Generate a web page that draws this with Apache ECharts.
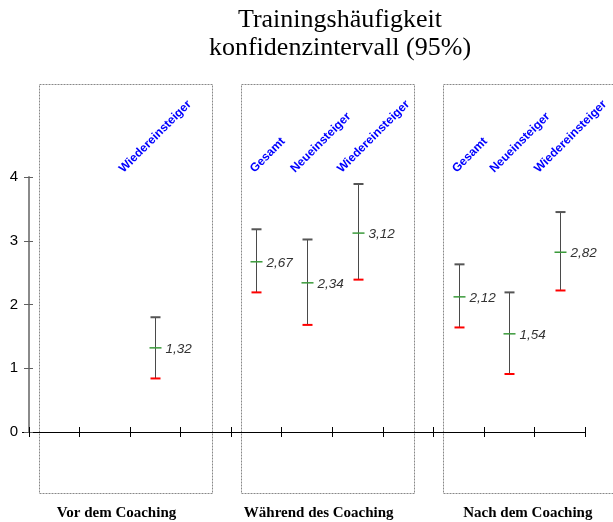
<!DOCTYPE html>
<html><head><meta charset="utf-8">
<script src="https://cdn.jsdelivr.net/npm/echarts@6/dist/echarts.min.js"></script>
<style>html,body{margin:0;padding:0;background:#fff}#c{width:613px;height:522px}</style>
</head><body><div id="c"></div>
<script>
// ---- data ----
const categories = ['Gesamt','Neueinsteiger','Wiedereinsteiger','', 'Gesamt','Neueinsteiger','Wiedereinsteiger','', 'Gesamt','Neueinsteiger','Wiedereinsteiger'];
const means = [null,null,1.32,null, 2.67,2.34,3.12,null, 2.12,1.54,2.82];
const upper = [null,null,1.80,null, 3.18,3.02,3.89,null, 2.63,2.19,3.45];
const lower = [null,null,0.84,null, 2.19,1.68,2.39,null, 1.64,0.91,2.22];
const groups = ['Vor dem Coaching','Während des Coaching','Nach dem Coaching'];
const groupStart = [0,4,8];
const yTicks = [0,1,2,3,4];
const titleLines = ['Trainingshäufigkeit','konfidenzintervall (95%)'];

// ---- style-only helpers (pixel offsets) ----
const catLabelDx = {2:-30, 4:0, 5:-10, 6:-14, 8:0, 9:-13, 10:-19};
const groupLabelDx = [-9, -9, -2];

const barData = [];
const labelData = [];
categories.forEach((c,i)=>{
  if (means[i] != null) {
    barData.push([i, lower[i], upper[i], means[i]]);
    labelData.push({value:[i, yTicks[yTicks.length-1]], name:c});
  }
});

const chart = echarts.init(document.getElementById('c'));
const fmt = v => v.toFixed(2).replace('.', ',');

chart.setOption({
  animation:false,
  title:{text:titleLines.join('\n'), left:335, top:1, textAlign:'center',
    textStyle:{fontFamily:'Liberation Serif', fontSize:26, fontWeight:'normal', color:'#000', lineHeight:28}},
  grid:{left:29, right:28, top:177, bottom:90},
  xAxis:[
    {type:'category', data:categories, boundaryGap:true,
     axisLine:{lineStyle:{color:'#000', width:1}},
     axisTick:{show:true, interval:0, length:5, lineStyle:{color:'#000'}},
     axisLabel:{show:false}},
    {type:'category', data:categories, boundaryGap:true, position:'bottom',
     axisLine:{show:false},
     axisTick:{show:true, interval:0, inside:true, length:5, lineStyle:{color:'#000'}},
     axisLabel:{show:false}}
  ],
  yAxis:[
    {type:'value', min:yTicks[0], max:yTicks[yTicks.length-1], interval:1,
     splitLine:{show:false},
     axisLine:{show:true, lineStyle:{color:'#8a8a8a', width:2}},
     axisTick:{show:true, length:5, lineStyle:{color:'#606060'}},
     axisLabel:{fontFamily:'Liberation Sans', fontSize:15, color:'#000', margin:11}},
    {type:'value', min:yTicks[0], max:yTicks[yTicks.length-1], interval:1, position:'left',
     splitLine:{show:false}, axisLine:{show:false},
     axisTick:{show:true, inside:true, length:4, lineStyle:{color:'#606060'}},
     axisLabel:{show:false}}
  ],
  series:[
    {type:'custom', xAxisIndex:0, yAxisIndex:0, data:barData,
     renderItem:function(params, api){
       const hi = api.coord([api.value(0), api.value(2)]);
       const lo = api.coord([api.value(0), api.value(1)]);
       const md = api.coord([api.value(0), api.value(3)]);
       const x = Math.round(hi[0]) + 0.5;
       return {type:'group', children:[
         {type:'line', shape:{x1:x, y1:hi[1], x2:x, y2:lo[1]}, style:{stroke:'#4a4a4a', lineWidth:1}},
         {type:'line', shape:{x1:x-5, y1:hi[1], x2:x+5, y2:hi[1]}, style:{stroke:'#555', lineWidth:2}},
         {type:'line', shape:{x1:x-5, y1:lo[1], x2:x+5, y2:lo[1]}, style:{stroke:'#ff0000', lineWidth:2}},
         {type:'line', shape:{x1:x-6, y1:md[1], x2:x+6, y2:md[1]}, style:{stroke:'#3a9a3a', lineWidth:1.5}},
         {type:'text', style:{text:fmt(api.value(3)), x:x+10, y:md[1]+1, verticalAlign:'middle', align:'left',
           font:'italic 13.5px "Liberation Sans"', fill:'#333'}}
       ]};
     }},
    {type:'custom', xAxisIndex:0, yAxisIndex:0, data:labelData, silent:true,
     renderItem:function(params, api){
       const i = api.value(0);
       const p = api.coord([i, api.value(1)]);
       return {type:'text', x:p[0] + (catLabelDx[i]||0), y:p[1] - 2, rotation:Math.PI/4,
         style:{text:categories[i], align:'left', verticalAlign:'bottom',
           font:'bold 12px "Liberation Sans"', fill:'#0000ff'}};
     }}
  ]
});

// decoration: dotted group boxes and group titles
const g = [];
const cw = chart.convertToPixel({xAxisIndex:0}, 1) - chart.convertToPixel({xAxisIndex:0}, 0);
groupStart.forEach((s,k)=>{
  const left = chart.convertToPixel({xAxisIndex:0}, s) - cw/2 + 10;
  const w = 173;
  g.push({type:'rect', shape:{x:Math.round(left)+0.5, y:84.5, width:w, height:409},
    style:{fill:null, stroke:'#888', lineWidth:1, lineDash:[2,1]}, silent:true});
  g.push({type:'text', x:left + w/2 + groupLabelDx[k], y:513, style:{text:groups[k], align:'center', verticalAlign:'middle',
    font:'bold 15px "Liberation Serif"', fill:'#000'}});
});
// x axis line extends slightly left of the y axis in the reference
const y0 = chart.convertToPixel({yAxisIndex:0}, 0);
const xa = chart.convertToPixel({xAxisIndex:0}, 0) - cw/2;
g.push({type:'line', shape:{x1:xa-7, y1:Math.round(y0)+0.5, x2:xa, y2:Math.round(y0)+0.5}, style:{stroke:'#000', lineWidth:1}, silent:true});
chart.setOption({graphic:g});
</script>
</body></html>
